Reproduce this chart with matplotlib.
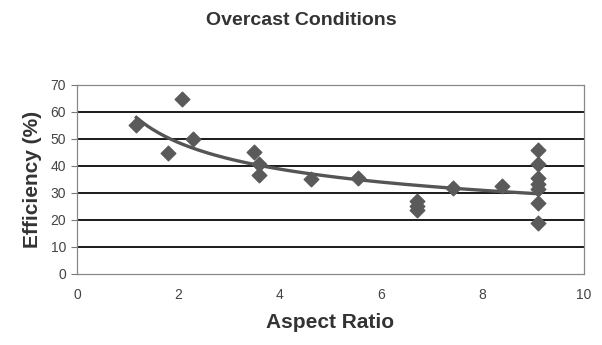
import numpy as np
import matplotlib
matplotlib.use("Agg")
import matplotlib.pyplot as plt

plt.rcParams['font.family'] = ['Liberation Sans', 'DejaVu Sans']

aspect_ratio = [1.17, 1.8, 2.08, 2.29, 3.5, 3.58, 3.58, 4.62, 5.55,
                6.7, 6.7, 6.7, 7.42, 8.38,
                9.1, 9.1, 9.1, 9.1, 9.1, 9.1, 9.1]
efficiency = [55, 44.8, 64.8, 50, 45, 40.7, 36.5, 35, 35.6,
              27, 25, 23.5, 32, 32.5,
              46, 40.7, 35.4, 33.3, 31.5, 26.4, 19]

x_ticks = [0, 2, 4, 6, 8, 10]
y_ticks = [0, 10, 20, 30, 40, 50, 60, 70]

fig = plt.figure(figsize=(6.02, 3.45), dpi=100)
ax = fig.add_axes([0.128, 0.206, 0.842, 0.548])

ax.set_xlim(0, 10)
ax.set_ylim(0, 70)
for yv in y_ticks[1:-1]:
    ax.axhline(yv, color='#1a1a1a', lw=1.4, zorder=1)

# power trendline fitted to the data
xa = np.array(aspect_ratio)
ya = np.array(efficiency)
b, loga = np.polyfit(np.log(xa), np.log(ya), 1)
xs = np.linspace(xa.min(), xa.max(), 200)
ax.plot(xs, np.exp(loga) * xs ** b, color='#555555', lw=2.4, zorder=2)

ax.scatter(aspect_ratio, efficiency, marker='D', s=55, color='#5a5a5a',
           edgecolors='#5a5a5a', zorder=3)

ax.set_xticks(x_ticks)
ax.set_yticks(y_ticks)
ax.tick_params(axis='x', length=0, pad=10, labelsize=10, labelcolor='#444444')
ax.tick_params(axis='y', length=4, width=0.8, color='#777777', pad=4,
               labelsize=10, labelcolor='#444444')
for s in ax.spines.values():
    s.set_color('#888888')
    s.set_linewidth(0.9)

ax.set_xlabel('Aspect Ratio', fontsize=15, fontweight='bold', color='#333333', labelpad=8)
ax.set_ylabel('Efficiency (%)', fontsize=15, fontweight='bold', color='#333333', labelpad=6)
fig.text(0.5, 0.94, 'Overcast Conditions', ha='center', va='center',
         fontsize=14, fontweight='bold', color='#333333')

fig.savefig('out.png', dpi=100, facecolor='white')
